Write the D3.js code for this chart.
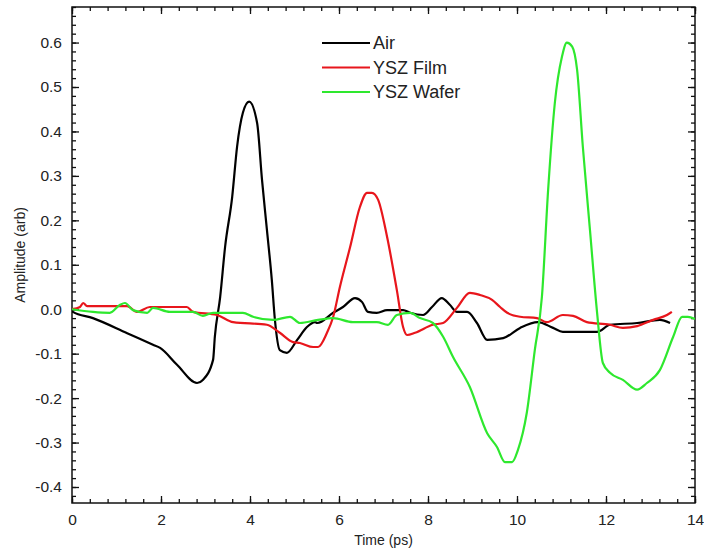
<!DOCTYPE html>
<html>
<head>
<meta charset="utf-8">
<script src="https://cdn.jsdelivr.net/npm/d3@7"></script>
<style>
	body { margin: 0; background: #fff; }
	svg text { font-family: "Liberation Sans", Arial, sans-serif; fill: #222; }
</style>
</head>
<body>
<svg id="chart" width="704" height="550"></svg>
<script>
// series names, in legend order
var seriesNames = ['Air', 'YSZ Film', 'YSZ Wafer'];

// time (ps) / amplitude pairs
var airT = [0, 0.02, 0.47, 1.24, 1.82, 1.98, 2.36, 2.81, 2.94, 3.17, 3.21, 3.33, 3.44, 3.60, 3.71, 3.84, 3.98, 4.16, 4.27, 4.38, 4.49, 4.56, 4.67, 4.83, 5.06, 5.28, 5.46, 5.51, 5.87, 6.09, 6.36, 6.52, 6.65, 6.85, 7.08, 7.44, 7.60, 7.89, 8.09, 8.31, 8.49, 8.65, 8.88, 9.10, 9.33, 9.69, 10.07, 10.47, 10.81, 11.03, 11.80, 12.09, 12.70, 13.21, 13.44];
var airV = [0, -0.006, -0.02, -0.054, -0.08, -0.087, -0.125, -0.166, -0.159, -0.114, -0.062, 0.028, 0.14, 0.253, 0.366, 0.442, 0.467, 0.419, 0.291, 0.179, 0.066, -0.024, -0.092, -0.098, -0.069, -0.040, -0.029, -0.031, -0.008, 0.005, 0.025, 0.016, -0.006, -0.008, -0.002, -0.002, -0.008, -0.013, 0.005, 0.025, 0.01, -0.006, -0.006, -0.031, -0.069, -0.065, -0.042, -0.029, -0.042, -0.051, -0.051, -0.035, -0.031, -0.024, -0.031];

var filmT = [0, 0.18, 0.25, 0.34, 1.24, 1.46, 1.75, 2.58, 2.72, 3.26, 3.62, 4.38, 4.67, 4.97, 5.12, 5.42, 5.53, 5.73, 5.87, 6.02, 6.25, 6.47, 6.63, 6.74, 6.88, 7.08, 7.30, 7.44, 7.53, 7.71, 8.11, 8.34, 8.65, 8.94, 9.17, 9.44, 9.62, 9.78, 10.07, 10.45, 10.67, 11.03, 11.26, 11.57, 12.09, 12.38, 12.70, 13.06, 13.37, 13.48];
var filmV = [0, 0.005, 0.014, 0.007, 0.007, -0.006, 0.005, 0.005, -0.006, -0.013, -0.029, -0.035, -0.053, -0.074, -0.076, -0.085, -0.085, -0.053, -0.017, 0.05, 0.14, 0.23, 0.262, 0.262, 0.246, 0.163, 0.043, -0.04, -0.058, -0.053, -0.035, -0.031, 0.003, 0.037, 0.032, 0.021, 0.005, -0.008, -0.017, -0.02, -0.029, -0.013, -0.015, -0.029, -0.035, -0.042, -0.038, -0.024, -0.013, -0.006];

var waferT = [0, 0.47, 0.85, 1.08, 1.19, 1.37, 1.69, 1.82, 2.20, 2.72, 2.94, 3.17, 3.84, 4.07, 4.52, 4.90, 5.12, 5.53, 5.87, 6.31, 6.85, 7.10, 7.30, 7.60, 7.82, 8.11, 8.34, 8.56, 8.94, 9.33, 9.55, 9.73, 9.89, 10.02, 10.22, 10.40, 10.56, 10.70, 10.85, 11.01, 11.12, 11.24, 11.35, 11.48, 11.64, 11.80, 11.93, 12.09, 12.38, 12.70, 12.92, 13.21, 13.51, 13.71, 13.84, 14.0];
var waferV = [0, -0.006, -0.008, 0.01, 0.014, -0.002, -0.008, 0.003, -0.006, -0.006, -0.015, -0.008, -0.008, -0.017, -0.024, -0.017, -0.031, -0.024, -0.02, -0.029, -0.029, -0.035, -0.013, -0.008, -0.02, -0.031, -0.062, -0.107, -0.175, -0.279, -0.31, -0.344, -0.344, -0.317, -0.233, -0.092, 0.028, 0.269, 0.464, 0.568, 0.6, 0.591, 0.539, 0.365, 0.178, -0.008, -0.121, -0.143, -0.159, -0.181, -0.166, -0.137, -0.062, -0.017, -0.017, -0.022];

// tick values
var xTicks = [0, 2, 4, 6, 8, 10, 12, 14];
var yTicks = [-0.4, -0.3, -0.2, -0.1, 0.0, 0.1, 0.2, 0.3, 0.4, 0.5, 0.6];

var colors = ['#000000', '#e8161c', '#2ee82e'];

var W = 704, H = 550,
	pad = [7, 9, 47, 72], // top right bottom left
	cw = W - pad[1] - pad[3],
	ch = H - pad[0] - pad[2];

var svg = d3.select('#chart');

var x = d3.scaleLinear().domain([0, 14]).range([0, cw]);
var y = d3.scaleLinear().domain([-0.436, 0.68]).range([ch, 0]);

var xMinor = d3.range(0, 14.001, 0.4).map(function (d) {return +d.toFixed(2);});
var yMinor = d3.range(-0.42, 0.681, 0.02).map(function (d) {return +d.toFixed(2);});

var g = svg.append('g').attr('transform', 'translate(' + pad[3] + ',' + pad[0] + ')');

g.append('clipPath').attr('id', 'plotclip')
	.append('rect').attr('width', cw).attr('height', ch);

// ticks on all four sides, pointing in
function tickAxis(axis, vals, size, labels) {
	var a = axis.tickValues(vals).tickSize(size);
	if (!labels) a.tickFormat('');
	return a;
}

var fmtY = function (d) {return d.toFixed(1);};

// bottom
g.append('g').attr('class', 'axis').attr('transform', 'translate(0,' + ch + ')')
	.call(tickAxis(d3.axisBottom(x), xMinor, -4, false));
g.append('g').attr('class', 'axis').attr('transform', 'translate(0,' + ch + ')')
	.call(tickAxis(d3.axisBottom(x), xTicks, -7, true).tickPadding(11).tickFormat(d3.format('d')));
// top
g.append('g').attr('class', 'axis').call(tickAxis(d3.axisTop(x), xMinor, -4, false));
g.append('g').attr('class', 'axis').call(tickAxis(d3.axisTop(x), xTicks, -7, false));
// left
g.append('g').attr('class', 'axis').call(tickAxis(d3.axisLeft(y), yMinor, -4, false));
g.append('g').attr('class', 'axis')
	.call(tickAxis(d3.axisLeft(y), yTicks, -7, true).tickPadding(10).tickFormat(fmtY));
// right
g.append('g').attr('class', 'axis').attr('transform', 'translate(' + cw + ',0)')
	.call(tickAxis(d3.axisRight(y), yMinor, -4, false));
g.append('g').attr('class', 'axis').attr('transform', 'translate(' + cw + ',0)')
	.call(tickAxis(d3.axisRight(y), yTicks, -7, false));

g.selectAll('.axis .domain').remove();
g.selectAll('.axis line').attr('stroke', '#111').attr('stroke-width', 1.3);
g.selectAll('.axis text').attr('font-size', 15.5).attr('fill', '#222')
	.style('font-family', '"Liberation Sans", Arial, sans-serif');

// frame
g.append('rect').attr('width', cw).attr('height', ch)
	.attr('fill', 'none').attr('stroke', '#111').attr('stroke-width', 1.5);

// the curves
var series = [
	d3.zip(airT, airV),
	d3.zip(filmT, filmV),
	d3.zip(waferT, waferV)
];
var line = d3.line()
	.curve(d3.curveMonotoneX)
	.x(function (d) {return x(d[0]);})
	.y(function (d) {return y(d[1]);});

g.append('g').attr('clip-path', 'url(#plotclip)')
	.selectAll('path.series').data(series).enter()
	.append('path').attr('class', 'series')
	.attr('d', line)
	.attr('fill', 'none')
	.attr('stroke', function (d, i) {return colors[i];})
	.attr('stroke-width', 2.2)
	.attr('stroke-linejoin', 'round');

// legend
var leg = g.selectAll('g.legend').data(seriesNames).enter()
	.append('g').attr('class', 'legend')
	.attr('transform', function (d, i) {return 'translate(' + (322 - pad[3]) + ',' + (43 - pad[0] + i * 24.5) + ')';});
leg.append('line').attr('x1', 0).attr('x2', 48)
	.attr('stroke', function (d, i) {return colors[i];}).attr('stroke-width', 2.2);
leg.append('text').attr('x', 51).attr('dy', '0.36em')
	.attr('font-size', 18).text(function (d) {return d;});

// axis titles
svg.append('text').attr('x', pad[3] + cw / 2).attr('y', 545)
	.attr('text-anchor', 'middle').attr('font-size', 14).text('Time (ps)');
svg.append('text')
	.attr('transform', 'translate(25,' + (pad[0] + ch / 2) + ') rotate(-90)')
	.attr('text-anchor', 'middle').attr('font-size', 14).text('Amplitude (arb)');
</script>
</body>
</html>
